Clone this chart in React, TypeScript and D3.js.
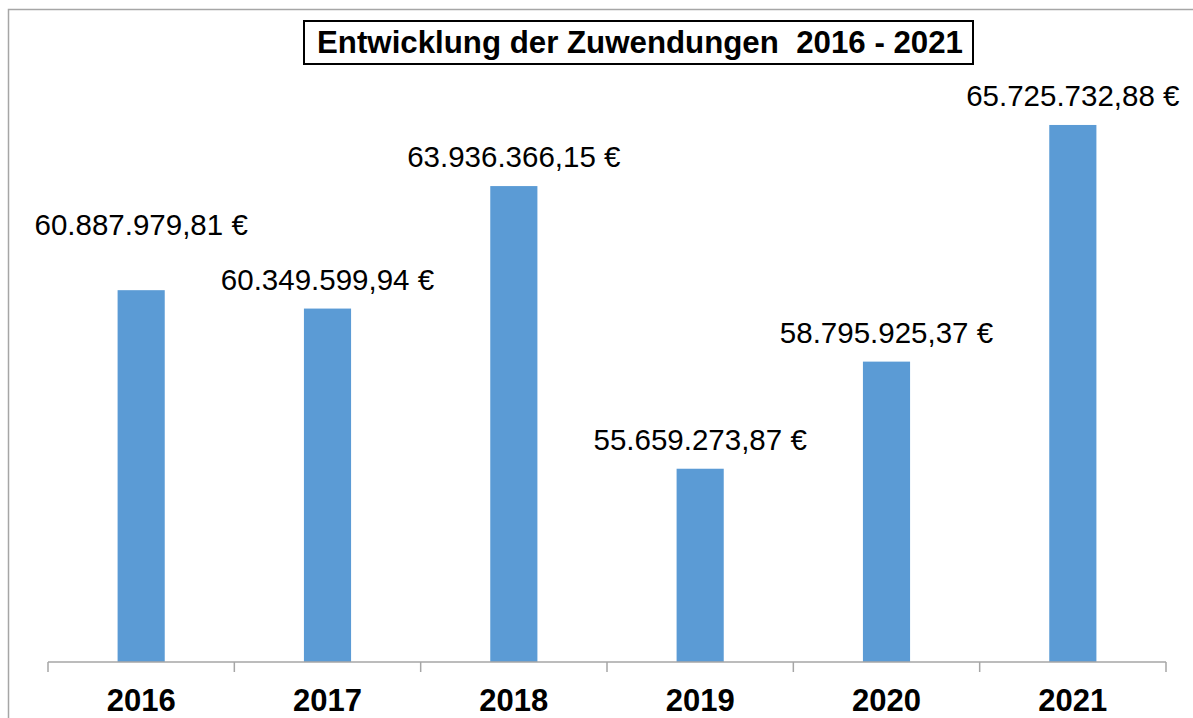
import React from 'react'
import * as d3 from 'd3'

const years = ['2016', '2017', '2018', '2019', '2020', '2021']
const amounts = [60887979.81, 60349599.94, 63936366.15, 55659273.87, 58795925.37, 65725732.88]
const labels = [
  '60.887.979,81 €',
  '60.349.599,94 €',
  '63.936.366,15 €',
  '55.659.273,87 €',
  '58.795.925,37 €',
  '65.725.732,88 €',
]
const title = 'Entwicklung der Zuwendungen  2016 - 2021'

const width = 1193
const height = 718
const baseY = 662
const font = 'Arial, "Liberation Sans", sans-serif'

const App = () => {
  const x = d3.scaleBand<string>()
    .domain(years)
    .range([48, 1166])
    .paddingInner(0.747)
    .paddingOuter(0.3735)

  const y = d3.scaleLinear()
    .domain([50000000, 70000000])
    .range([baseY, -21])

  const step = x.step()
  const edges = d3.range(years.length + 1).map(i => 48 + i * step)

  return (
    <svg width={width} height={height}
      style={{position: 'absolute', left: 0, top: 0, background: '#fff'}}>
      {/* chart frame */}
      <rect x={8.5} y={9.5} width={width + 20} height={height + 20}
        fill='none' stroke='#a6a6a6' strokeWidth={1.5} />

      {/* title box */}
      <rect x={304} y={21} width={669} height={43} fill='#fff' stroke='#000' strokeWidth={2} />
      <text x={317} y={52.5} fontFamily={font} fontWeight='bold'
        fontSize={31.2} fill='#000' textLength={646} lengthAdjust='spacingAndGlyphs'
        style={{whiteSpace: 'pre'}}>{title}</text>

      {/* bars */}
      {years.map((yr, i) => (
        <rect key={yr} x={x(yr)} y={y(amounts[i])} width={x.bandwidth()}
          height={baseY - y(amounts[i])} fill='#5b9bd5' />
      ))}

      {/* value labels, the first one was moved up by hand */}
      {years.map((yr, i) => (
        <text key={'l' + yr} x={(x(yr) as number) + x.bandwidth() / 2}
          y={y(amounts[i]) - (i === 0 ? 55 : 19)}
          textAnchor='middle' fontFamily={font} fontSize={29.5} fill='#000'>
          {labels[i]}
        </text>
      ))}

      {/* x axis */}
      <line x1={48} x2={1166} y1={baseY} y2={baseY} stroke='#a6a6a6' strokeWidth={1.5} />
      {edges.map((ex, i) => (
        <line key={'t' + i} x1={ex} x2={ex} y1={baseY} y2={baseY + 10}
          stroke='#a6a6a6' strokeWidth={1.5} />
      ))}
      {years.map(yr => (
        <text key={'x' + yr} x={(x(yr) as number) + x.bandwidth() / 2} y={711}
          textAnchor='middle' fontFamily={font} fontWeight='bold' fontSize={31}
          fill='#000'>{yr}</text>
      ))}
    </svg>
  )
}

export default App
